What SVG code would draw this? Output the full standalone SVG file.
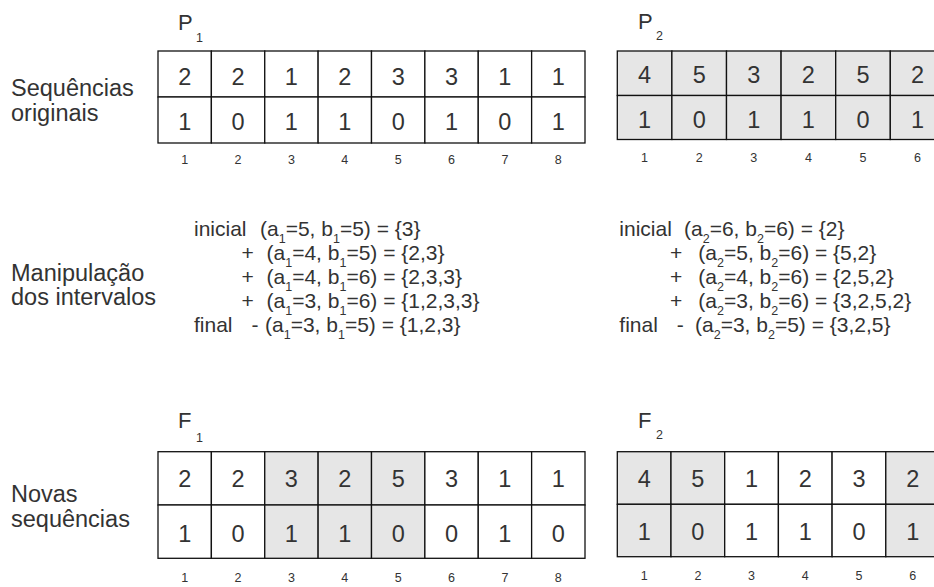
<svg xmlns="http://www.w3.org/2000/svg" width="934" height="587" viewBox="0 0 934 587">
<style>
text{font-family:"Liberation Sans",Arial,sans-serif;fill:#333}
.lbl{font-size:23.5px}
.mid{font-size:21px}
.sub{font-size:12.5px}
.cv{font-size:23.5px;text-anchor:middle}
.ix{font-size:12.5px;text-anchor:middle}
.tl{font-size:22px}
.ts{font-size:12.5px}
.c{fill:#fff;stroke:#111;stroke-width:1.3}
.g{fill:#e6e6e6;stroke:#111;stroke-width:1.3}
</style>
<rect width="934" height="587" fill="#fff"/>
<g id="labels">
<text class="lbl" x="11" y="96">Sequências</text>
<text class="lbl" x="11" y="121">originais</text>
<text class="lbl" x="11" y="281">Manipulação</text>
<text class="lbl" x="11" y="305">dos intervalos</text>
<text class="lbl" x="11" y="502">Novas</text>
<text class="lbl" x="11" y="527">sequências</text>
</g>
<g id="p1">
<text class="tl" x="178" y="30">P</text><text class="ts" x="196" y="42">1</text>
<rect class="c" x="158" y="51" width="53.375" height="46"/>
<rect class="c" x="211.375" y="51" width="53.375" height="46"/>
<rect class="c" x="264.75" y="51" width="53.375" height="46"/>
<rect class="c" x="318.125" y="51" width="53.375" height="46"/>
<rect class="c" x="371.5" y="51" width="53.375" height="46"/>
<rect class="c" x="424.875" y="51" width="53.375" height="46"/>
<rect class="c" x="478.25" y="51" width="53.375" height="46"/>
<rect class="c" x="531.625" y="51" width="53.375" height="46"/>
<rect class="c" x="158" y="97" width="53.375" height="46"/>
<rect class="c" x="211.375" y="97" width="53.375" height="46"/>
<rect class="c" x="264.75" y="97" width="53.375" height="46"/>
<rect class="c" x="318.125" y="97" width="53.375" height="46"/>
<rect class="c" x="371.5" y="97" width="53.375" height="46"/>
<rect class="c" x="424.875" y="97" width="53.375" height="46"/>
<rect class="c" x="478.25" y="97" width="53.375" height="46"/>
<rect class="c" x="531.625" y="97" width="53.375" height="46"/>
<text class="cv" x="184.7" y="85">2</text><text class="cv" x="238.1" y="85">2</text><text class="cv" x="291.4" y="85">1</text><text class="cv" x="344.8" y="85">2</text><text class="cv" x="398.2" y="85">3</text><text class="cv" x="451.6" y="85">3</text><text class="cv" x="504.9" y="85">1</text><text class="cv" x="558.3" y="85">1</text>
<text class="cv" x="184.7" y="130">1</text><text class="cv" x="238.1" y="130">0</text><text class="cv" x="291.4" y="130">1</text><text class="cv" x="344.8" y="130">1</text><text class="cv" x="398.2" y="130">0</text><text class="cv" x="451.6" y="130">1</text><text class="cv" x="504.9" y="130">0</text><text class="cv" x="558.3" y="130">1</text>
<text class="ix" x="184.7" y="164">1</text><text class="ix" x="238.1" y="164">2</text><text class="ix" x="291.4" y="164">3</text><text class="ix" x="344.8" y="164">4</text><text class="ix" x="398.2" y="164">5</text><text class="ix" x="451.6" y="164">6</text><text class="ix" x="504.9" y="164">7</text><text class="ix" x="558.3" y="164">8</text>
</g>
<g id="p2">
<text class="tl" x="638" y="28.5">P</text><text class="ts" x="656" y="39.5">2</text>
<rect class="g" x="617.3" y="51" width="54.6" height="44.5"/>
<rect class="g" x="671.9" y="51" width="54.6" height="44.5"/>
<rect class="g" x="726.5" y="51" width="54.6" height="44.5"/>
<rect class="g" x="781.1" y="51" width="54.6" height="44.5"/>
<rect class="g" x="835.7" y="51" width="54.6" height="44.5"/>
<rect class="g" x="890.3" y="51" width="54.6" height="44.5"/>
<rect class="g" x="617.3" y="95.5" width="54.6" height="44"/>
<rect class="g" x="671.9" y="95.5" width="54.6" height="44"/>
<rect class="g" x="726.5" y="95.5" width="54.6" height="44"/>
<rect class="g" x="781.1" y="95.5" width="54.6" height="44"/>
<rect class="g" x="835.7" y="95.5" width="54.6" height="44"/>
<rect class="g" x="890.3" y="95.5" width="54.6" height="44"/>
<text class="cv" x="644.6" y="83.3">4</text><text class="cv" x="699.2" y="83.3">5</text><text class="cv" x="753.8" y="83.3">3</text><text class="cv" x="808.4" y="83.3">2</text><text class="cv" x="863" y="83.3">5</text><text class="cv" x="917.6" y="83.3">2</text>
<text class="cv" x="644.6" y="128.3">1</text><text class="cv" x="699.2" y="128.3">0</text><text class="cv" x="753.8" y="128.3">1</text><text class="cv" x="808.4" y="128.3">1</text><text class="cv" x="863" y="128.3">0</text><text class="cv" x="917.6" y="128.3">1</text>
<text class="ix" x="644.6" y="161.7">1</text><text class="ix" x="699.2" y="161.7">2</text><text class="ix" x="753.8" y="161.7">3</text><text class="ix" x="808.4" y="161.7">4</text><text class="ix" x="863" y="161.7">5</text><text class="ix" x="917.6" y="161.7">6</text>
</g>
<g id="manip1" class="mid">
<text class="mid" x="194" y="236">inicial</text>
<text class="mid" x="260" y="236">(a<tspan class="sub" dy="7">1</tspan><tspan dy="-7">=5, b</tspan><tspan class="sub" dy="7">1</tspan><tspan dy="-7">=5) = {3}</tspan></text>
<text class="mid" x="241.5" y="260">+</text>
<text class="mid" x="266.5" y="260">(a<tspan class="sub" dy="7">1</tspan><tspan dy="-7">=4, b</tspan><tspan class="sub" dy="7">1</tspan><tspan dy="-7">=5) = {2,3}</tspan></text>
<text class="mid" x="241.5" y="284">+</text>
<text class="mid" x="266.5" y="284">(a<tspan class="sub" dy="7">1</tspan><tspan dy="-7">=4, b</tspan><tspan class="sub" dy="7">1</tspan><tspan dy="-7">=6) = {2,3,3}</tspan></text>
<text class="mid" x="241.5" y="308">+</text>
<text class="mid" x="266.5" y="308">(a<tspan class="sub" dy="7">1</tspan><tspan dy="-7">=3, b</tspan><tspan class="sub" dy="7">1</tspan><tspan dy="-7">=6) = {1,2,3,3}</tspan></text>
<text class="mid" x="194" y="332">final</text>
<text class="mid" x="251.5" y="332">-</text>
<text class="mid" x="265" y="332">(a<tspan class="sub" dy="7">1</tspan><tspan dy="-7">=3, b</tspan><tspan class="sub" dy="7">1</tspan><tspan dy="-7">=5) = {1,2,3}</tspan></text>
</g>
<g id="manip2">
<text class="mid" x="619.3" y="236">inicial</text>
<text class="mid" x="684" y="236">(a<tspan class="sub" dy="7">2</tspan><tspan dy="-7">=6, b</tspan><tspan class="sub" dy="7">2</tspan><tspan dy="-7">=6) = {2}</tspan></text>
<text class="mid" x="670" y="260">+</text>
<text class="mid" x="698.3" y="260">(a<tspan class="sub" dy="7">2</tspan><tspan dy="-7">=5, b</tspan><tspan class="sub" dy="7">2</tspan><tspan dy="-7">=6) = {5,2}</tspan></text>
<text class="mid" x="670" y="284">+</text>
<text class="mid" x="698.3" y="284">(a<tspan class="sub" dy="7">2</tspan><tspan dy="-7">=4, b</tspan><tspan class="sub" dy="7">2</tspan><tspan dy="-7">=6) = {2,5,2}</tspan></text>
<text class="mid" x="670" y="308">+</text>
<text class="mid" x="698.3" y="308">(a<tspan class="sub" dy="7">2</tspan><tspan dy="-7">=3, b</tspan><tspan class="sub" dy="7">2</tspan><tspan dy="-7">=6) = {3,2,5,2}</tspan></text>
<text class="mid" x="619.3" y="332">final</text>
<text class="mid" x="676.7" y="332">-</text>
<text class="mid" x="695" y="332">(a<tspan class="sub" dy="7">2</tspan><tspan dy="-7">=3, b</tspan><tspan class="sub" dy="7">2</tspan><tspan dy="-7">=5) = {3,2,5}</tspan></text>
</g>
<g id="f1">
<text class="tl" x="178" y="428.3">F</text><text class="ts" x="196" y="441.7">1</text>
<rect class="c" x="158" y="451.7" width="53.375" height="53.3"/>
<rect class="c" x="211.375" y="451.7" width="53.375" height="53.3"/>
<rect class="g" x="264.75" y="451.7" width="53.375" height="53.3"/>
<rect class="g" x="318.125" y="451.7" width="53.375" height="53.3"/>
<rect class="g" x="371.5" y="451.7" width="53.375" height="53.3"/>
<rect class="c" x="424.875" y="451.7" width="53.375" height="53.3"/>
<rect class="c" x="478.25" y="451.7" width="53.375" height="53.3"/>
<rect class="c" x="531.625" y="451.7" width="53.375" height="53.3"/>
<rect class="c" x="158" y="505" width="53.375" height="53.3"/>
<rect class="c" x="211.375" y="505" width="53.375" height="53.3"/>
<rect class="g" x="264.75" y="505" width="53.375" height="53.3"/>
<rect class="g" x="318.125" y="505" width="53.375" height="53.3"/>
<rect class="g" x="371.5" y="505" width="53.375" height="53.3"/>
<rect class="c" x="424.875" y="505" width="53.375" height="53.3"/>
<rect class="c" x="478.25" y="505" width="53.375" height="53.3"/>
<rect class="c" x="531.625" y="505" width="53.375" height="53.3"/>
<text class="cv" x="184.7" y="487.3">2</text><text class="cv" x="238.1" y="487.3">2</text><text class="cv" x="291.4" y="487.3">3</text><text class="cv" x="344.8" y="487.3">2</text><text class="cv" x="398.2" y="487.3">5</text><text class="cv" x="451.6" y="487.3">3</text><text class="cv" x="504.9" y="487.3">1</text><text class="cv" x="558.3" y="487.3">1</text>
<text class="cv" x="184.7" y="541.7">1</text><text class="cv" x="238.1" y="541.7">0</text><text class="cv" x="291.4" y="541.7">1</text><text class="cv" x="344.8" y="541.7">1</text><text class="cv" x="398.2" y="541.7">0</text><text class="cv" x="451.6" y="541.7">0</text><text class="cv" x="504.9" y="541.7">1</text><text class="cv" x="558.3" y="541.7">0</text>
<text class="ix" x="184.7" y="581.7">1</text><text class="ix" x="238.1" y="581.7">2</text><text class="ix" x="291.4" y="581.7">3</text><text class="ix" x="344.8" y="581.7">4</text><text class="ix" x="398.2" y="581.7">5</text><text class="ix" x="451.6" y="581.7">6</text><text class="ix" x="504.9" y="581.7">7</text><text class="ix" x="558.3" y="581.7">8</text>
</g>
<g id="f2">
<text class="tl" x="638" y="427.7">F</text><text class="ts" x="656" y="439">2</text>
<rect class="g" x="617.3" y="451.7" width="53.7" height="52.6"/>
<rect class="g" x="671" y="451.7" width="53.7" height="52.6"/>
<rect class="c" x="724.7" y="451.7" width="53.7" height="52.6"/>
<rect class="c" x="778.4" y="451.7" width="53.7" height="52.6"/>
<rect class="c" x="832.1" y="451.7" width="53.7" height="52.6"/>
<rect class="g" x="885.8" y="451.7" width="53.7" height="52.6"/>
<rect class="g" x="617.3" y="504.3" width="53.7" height="52.4"/>
<rect class="g" x="671" y="504.3" width="53.7" height="52.4"/>
<rect class="c" x="724.7" y="504.3" width="53.7" height="52.4"/>
<rect class="c" x="778.4" y="504.3" width="53.7" height="52.4"/>
<rect class="c" x="832.1" y="504.3" width="53.7" height="52.4"/>
<rect class="g" x="885.8" y="504.3" width="53.7" height="52.4"/>
<text class="cv" x="644.2" y="487.3">4</text><text class="cv" x="697.9" y="487.3">5</text><text class="cv" x="751.6" y="487.3">1</text><text class="cv" x="805.3" y="487.3">2</text><text class="cv" x="859" y="487.3">3</text><text class="cv" x="912.7" y="487.3">2</text>
<text class="cv" x="644.2" y="540">1</text><text class="cv" x="697.9" y="540">0</text><text class="cv" x="751.6" y="540">1</text><text class="cv" x="805.3" y="540">1</text><text class="cv" x="859" y="540">0</text><text class="cv" x="912.7" y="540">1</text>
<text class="ix" x="644.2" y="580">1</text><text class="ix" x="697.9" y="580">2</text><text class="ix" x="751.6" y="580">3</text><text class="ix" x="805.3" y="580">4</text><text class="ix" x="859" y="580">5</text><text class="ix" x="912.7" y="580">6</text>
</g>
<g id="connectors"/>
</svg>
